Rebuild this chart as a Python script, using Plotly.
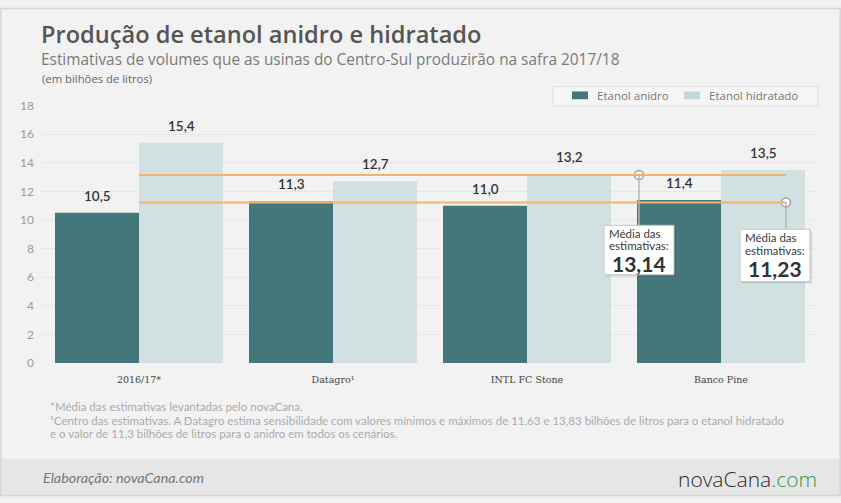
import plotly.graph_objects as go

# dados (bilhões de litros)
categorias = ['2016/17*', 'Datagro¹', 'INTL FC Stone', 'Banco Pine']
anidro = [10.5, 11.3, 11.0, 11.4]
hidratado = [15.4, 12.7, 13.2, 13.5]
medias = [13.14, 11.23]          # média hidratado, média anidro
medias_txt = ['13,14', '11,23']

COR_ANIDRO = '#44777c'
COR_HIDRATADO = '#d1e1e1'
COR_MEDIA = '#f0b46c'
FONTE = 'Lato'
FONTE_TIT = 'Open Sans'
W, H = 841, 503


def px_x(p):
    return p / W


def px_y(p):
    return 1 - p / H


def fmt(v):
    return f'{v:.1f}'.replace('.', ',')


xs = list(range(len(categorias)))
bargap = 0.134
desloc = (1 - bargap) / 4

fig = go.Figure()
fig.add_trace(go.Bar(x=xs, y=anidro, name='Etanol anidro', marker_color=COR_ANIDRO,
                     marker_line_width=0, hoverinfo='y'))
fig.add_trace(go.Bar(x=xs, y=hidratado, name='Etanol hidratado', marker_color=COR_HIDRATADO,
                     marker_line_width=0, hoverinfo='y'))

anots = []
# rótulos de valor
for i in xs:
    for v, dx in ((anidro[i], -desloc), (hidratado[i], desloc)):
        anots.append(dict(x=i + dx, y=v, xref='x', yref='y', text=fmt(v), showarrow=False,
                          yanchor='bottom', yshift=7,
                          font=dict(family=FONTE, size=13.5, color='#333', weight=600)))

shapes = []
# fundo do rodapé e borda
shapes.append(dict(type='rect', xref='paper', yref='paper', x0=0, x1=1, y0=0, y1=px_y(465),
                   fillcolor='#e6e6e6', line_width=0, layer='below'))
shapes.append(dict(type='rect', xref='paper', yref='paper', x0=0.001, x1=0.999, y0=0.001, y1=0.999,
                   line=dict(color='#d6d6d6', width=1.5)))

# linhas de média e caixas
x_ini, x_fim = 0.0, 3.335
circ_x = [2.577, 3.335]
caixa_y = [9.6, 9.34]                      # topo das caixas (unidades do eixo)
caixas = [(604, 674, 224, 275), (740, 810, 228, 282)]   # px: x0, x1, y0, y1
linhas_txt = [(232, 245, 263), (237, 250, 269)]         # px: centros das 3 linhas
for m in medias:
    shapes.append(dict(type='line', xref='x', yref='y', x0=x_ini, x1=x_fim, y0=m, y1=m,
                       line=dict(color=COR_MEDIA, width=2)))
for k, m in enumerate(medias):
    shapes.append(dict(type='line', xref='x', yref='y', x0=circ_x[k], x1=circ_x[k],
                       y0=m, y1=caixa_y[k], line=dict(color='#b5b5b5', width=1.5)))
    bx0, bx1, by0, by1 = caixas[k]
    l1, l2, l3 = linhas_txt[k]
    shapes.append(dict(type='rect', xref='paper', yref='paper', x0=px_x(bx0 + 2), x1=px_x(bx1 + 2),
                       y0=px_y(by1 + 2), y1=px_y(by0 + 2), fillcolor='rgba(0,0,0,0.10)', line_width=0))
    shapes.append(dict(type='rect', xref='paper', yref='paper', x0=px_x(bx0), x1=px_x(bx1),
                       y0=px_y(by1), y1=px_y(by0), fillcolor='white', line=dict(color='#c4c4c4', width=1)))
    for ly, t in ((l1, 'Média das'), (l2, 'estimativas:')):
        anots.append(dict(x=px_x(bx0 + 4), y=px_y(ly), xref='paper', yref='paper', showarrow=False,
                          xanchor='left', yanchor='middle', text=t, borderpad=0,
                          font=dict(family=FONTE, size=11.5, color='#3a3a3a')))
    anots.append(dict(x=px_x((bx0 + bx1) / 2), y=px_y(l3), xref='paper', yref='paper', showarrow=False,
                      xanchor='center', yanchor='middle', text=f'<b>{medias_txt[k]}</b>', borderpad=0,
                      font=dict(family=FONTE, size=21, color='#333')))

fig.add_trace(go.Scatter(x=circ_x, y=medias, mode='markers', showlegend=False, hoverinfo='skip',
                         marker=dict(size=9, color='white', line=dict(color='#a0a0a0', width=1.5))))

# legenda manual
shapes.append(dict(type='rect', xref='paper', yref='paper', x0=px_x(553), x1=px_x(818),
                   y0=px_y(101), y1=px_y(81), fillcolor='#f6f6f6', line=dict(color='#dddddd', width=1)))
for sx, cor, nome in ((572, COR_ANIDRO, 'Etanol anidro'), (684, '#c3d8dc', 'Etanol hidratado')):
    shapes.append(dict(type='rect', xref='paper', yref='paper', x0=px_x(sx), x1=px_x(sx + 16),
                       y0=px_y(94), y1=px_y(86), fillcolor=cor, line_width=0))
    anots.append(dict(x=px_x(sx + 23), y=px_y(90), xref='paper', yref='paper', text=nome,
                      showarrow=False, xanchor='left', yanchor='middle',
                      font=dict(family=FONTE_TIT, size=11.5, color='#777')))

# títulos e notas
textos = [
    (40, 27, 'Produção de etanol anidro e hidratado', 23.6, '#555', FONTE_TIT, 600),
    (40, 53.5, 'Estimativas de volumes que as usinas do Centro-Sul produzirão na safra 2017/18', 15.4, '#7a7a7a', FONTE_TIT, 400),
    (41, 72.5, '(em bilhões de litros)', 11.3, '#666', FONTE_TIT, 400),
    (49, 411, '*Média das estimativas levantadas pelo novaCana.', 11.5, '#ababab', FONTE, 400),
    (49, 425, '¹Centro das estimativas. A Datagro estima sensibilidade com valores mínimos e máximos '
              'de 11,63 e 13,83 bilhões de litros para o etanol hidratado', 11.5, '#ababab', FONTE, 400),
    (49, 439, 'e o valor de 11,3 bilhões de litros para o anidro em todos os cenários.', 11.5, '#ababab', FONTE, 400),
    (42, 484, '<i>Elaboração: novaCana.com</i>', 14.3, '#777', FONTE, 400),
]
for tx, ty, t, sz, cor, fam, wt in textos:
    anots.append(dict(x=px_x(tx), y=px_y(ty), xref='paper', yref='paper', xanchor='left',
                      yanchor='middle', showarrow=False, text=t, borderpad=0,
                      font=dict(family=fam, size=sz, color=cor, weight=wt)))
anots.append(dict(x=px_x(819), y=px_y(485), xref='paper', yref='paper', xanchor='right', yanchor='middle',
                  showarrow=False, text='novaCana<span style="color:#2f9a4a">.com</span>',
                  font=dict(family='Open Sans', size=21, color='#2b2b2b', weight=300)))

fig.update_layout(
    width=W, height=H,
    margin=dict(l=0, r=0, t=0, b=0),
    paper_bgcolor='#f2f2f2', plot_bgcolor='#f2f2f2',
    barmode='group', bargap=bargap, bargroupgap=0,
    showlegend=False,
    shapes=shapes, annotations=anots,
    xaxis=dict(domain=[px_x(42), px_x(818)], range=[-0.5, 3.5], tickvals=xs, ticktext=categorias,
               showgrid=False, zeroline=False, showline=False, ticks='', ticklabelstandoff=9,
               tickfont=dict(family='DejaVu Serif', size=9.5, color='#444'), fixedrange=True),
    yaxis=dict(domain=[px_y(366), px_y(100.5)], range=[0, 18], dtick=2,
               gridcolor='#e7e7e7', gridwidth=1, zeroline=False, showline=False, ticklabelstandoff=7,
               tickfont=dict(family=FONTE, size=12, color='#9a9a9a'), fixedrange=True),
)

# página sem margens nem rolagem, para a figura ocupar exatamente a janela
ajuste_pagina = """
var st = document.createElement('style');
st.innerHTML = 'html, body {margin:0; padding:0; height:503px; overflow:hidden;}';
document.head.appendChild(st);
"""
fig.write_html('out.html', config={'displayModeBar': False}, post_script=ajuste_pagina)
